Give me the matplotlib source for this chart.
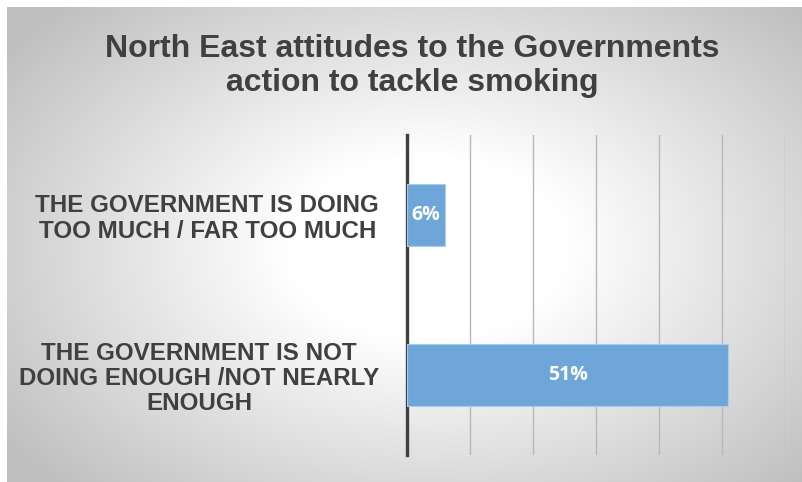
import matplotlib.pyplot as plt
import numpy as np

categories = ["THE GOVERNMENT IS NOT\nDOING ENOUGH /NOT NEARLY\nENOUGH",
              "THE GOVERNMENT IS DOING\nTOO MUCH / FAR TOO MUCH"]
values = [51, 6]
title = "North East attitudes to the Governments\naction to tackle smoking"

W, H = 803, 482
fig = plt.figure(figsize=(W / 100, H / 100), dpi=100)

# radial grey background of the chart area
bg = fig.add_axes([7 / W, 0, 1 - 7 / W, 1 - 7 / H])
yy, xx = np.mgrid[0:475, 0:796]
r = np.sqrt(((xx - 420) / 400.0) ** 2 + ((yy - 240) / 260.0) ** 2)
shade = 1 - 0.25 * np.clip((r - 0.35) / 0.95, 0, 1)
bg.imshow(np.dstack([shade] * 3), aspect="auto", extent=[0, 1, 0, 1])
bg.axis("off")

ax = fig.add_axes([407 / W, 1 - 455 / H, (785 - 407) / W, (455 - 135) / H])
ax.patch.set_alpha(0)
y = np.arange(len(values))
bars = ax.barh(y, values, height=0.39, color="#6fa6da", edgecolor="#a9cbec",
               linewidth=0.8, zorder=3)
for b, v in zip(bars, values):
    ax.text(b.get_width() / 2, b.get_y() + b.get_height() / 2, f"{v}%",
            ha="center", va="center", color="white", fontsize=14,
            fontweight="bold", family="Open Sans", zorder=4)

ax.set_xlim(0, 60)
ax.set_ylim(-0.5, 1.5)
ax.set_xticks(range(10, 61, 10))
ax.set_xticklabels([])
ax.tick_params(axis="x", length=0)
ax.grid(axis="x", color="#b8b8b8", linewidth=1, zorder=1)
ax.set_yticks(y)
ax.set_yticklabels(categories, fontsize=17.4, fontweight="bold",
                   family="Liberation Sans", color="#404040",
                   multialignment="center", linespacing=1.12)
ax.tick_params(axis="y", length=0, pad=20)
for s in ["top", "right", "bottom"]:
    ax.spines[s].set_visible(False)
ax.spines["left"].set_color("#404040")
ax.spines["left"].set_linewidth(2.4)

fig.text(0.513, 1 - 66 / H, title, ha="center", va="center", fontsize=23,
         fontweight="bold", family="Liberation Sans", color="#404040",
         linespacing=1.2)

fig.savefig("out.png", dpi=100)
